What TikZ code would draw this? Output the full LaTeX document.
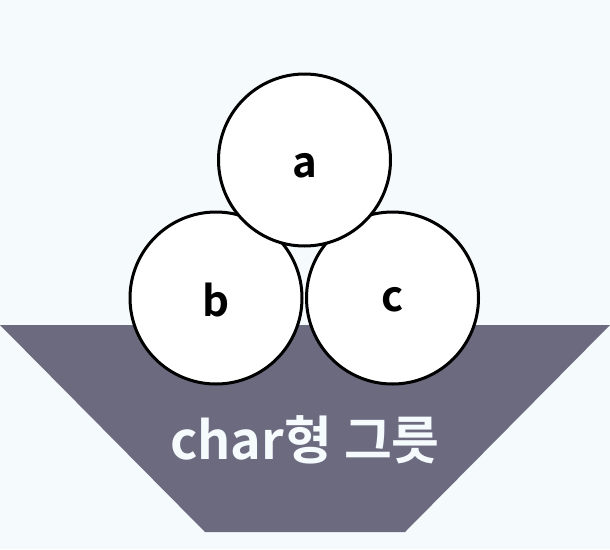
\documentclass[tikz,border=0pt]{standalone}
\usepackage{fontspec}
\setmainfont{Noto Sans CJK KR}[BoldFont={* Bold}]
\definecolor{bgc}{HTML}{F5FAFD}
\definecolor{bowl}{HTML}{6B6A7F}
\begin{document}
\begin{tikzpicture}[x=1pt,y=-1pt,
  ball/.style={circle,draw=black,fill=white,line width=3pt,minimum size=172pt,inner sep=0pt},
  balltext/.style={font=\fontsize{42}{42}\selectfont\bfseries},
  bowltext/.style={text=bgc,font=\fontsize{52}{52}\selectfont\bfseries}]
\useasboundingbox (0,0) rectangle (610,549);
\fill[bgc] (0,0) rectangle (610,549);
\fill[bowl] (0,325) -- (610,325) -- (405,532) -- (205,532) -- cycle;
\node[bowltext] (label) at (305,440) {char형 그릇};
\node[ball] (b) at (216,298) {};
\node[balltext] (bt) at ([yshift=-2pt]b.center) {b};
\node[ball] (c) at (392.5,298) {};
\node[balltext] (ct) at ([yshift=-2pt]c.center) {c};
\node[ball] (a) at (304.5,160) {};
\node[balltext] (at) at ([yshift=-6pt]a.center) {a};
\end{tikzpicture}
\end{document}
